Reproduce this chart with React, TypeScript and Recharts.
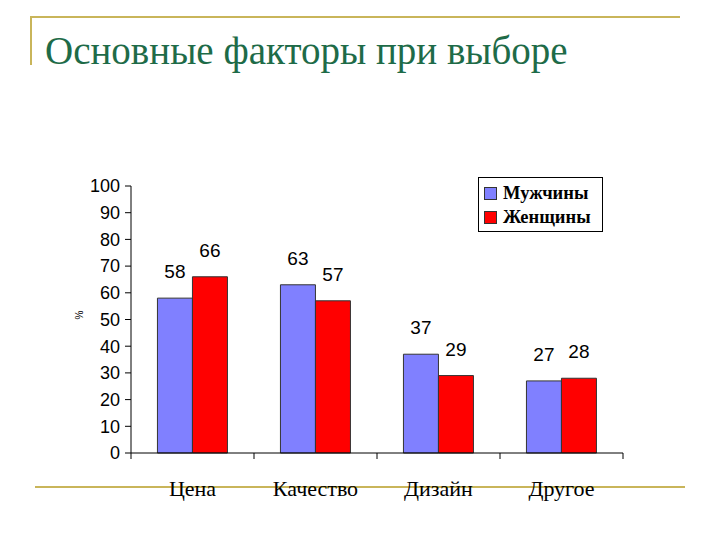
import React from 'react';
import { BarChart, Bar, XAxis, YAxis, LabelList, Legend } from 'recharts';

const categories = ['Цена', 'Качество', 'Дизайн', 'Другое'];
const men = [58, 63, 37, 27];
const women = [66, 57, 29, 28];
const yTicks = [0, 10, 20, 30, 40, 50, 60, 70, 80, 90, 100];

const data = categories.map((name, i) => ({ name, men: men[i], women: women[i] }));

const GOLD = '#C9B55A';
const SANS = '"Liberation Sans", Arial, sans-serif';
const SERIF = '"Liberation Serif", "Times New Roman", serif';

const CategoryTick = (props: any) => {
  const { x, y, payload, index } = props;
  const half = 123 / 2;
  return (
    <g>
      <line x1={x - half} x2={x - half} y1={y - 8} y2={y - 2} stroke="#000" />
      {index === categories.length - 1 && (
        <line x1={x + half} x2={x + half} y1={y - 8} y2={y - 2} stroke="#000" />
      )}
      <text x={x} y={y + 27} textAnchor="middle" dominantBaseline="central"
        fontFamily={SERIF} fontSize={22} fill="#000">
        {payload.value}
      </text>
    </g>
  );
};

const LegendBox = () => (
  <div style={{ width: 125, height: 55, border: '1px solid #000', background: '#fff',
    fontFamily: SERIF, fontWeight: 'bold', fontSize: 18.5, boxSizing: 'border-box', padding: '3px 0 0 5px' }}>
    {[['Мужчины', '#8080FF'], ['Женщины', '#FF0000']].map(([label, color]) => (
      <div key={label} style={{ display: 'flex', alignItems: 'center', height: 24 }}>
        <span style={{ width: 11, height: 11, background: color, border: '1px solid #333', marginRight: 6 }} />
        {label}
      </div>
    ))}
  </div>
);

export default function App() {
  return (
    <div style={{ position: 'absolute', left: 0, top: 0, width: 720, height: 540, background: '#fff', overflow: 'hidden' }}>
      <div style={{ position: 'absolute', left: 30, top: 16, width: 650, height: 2, background: GOLD }} />
      <div style={{ position: 'absolute', left: 30, top: 16, width: 2, height: 49, background: GOLD }} />
      <div style={{ position: 'absolute', left: 35, top: 486, width: 650, height: 2, background: GOLD }} />
      <div style={{ position: 'absolute', left: 45, top: 29, fontFamily: SERIF, fontSize: 39,
        color: '#1E6B48', whiteSpace: 'nowrap', lineHeight: '44px' }}>
        Основные факторы при выборе
      </div>
      <div style={{ position: 'absolute', left: 0, top: 0 }}>
        <BarChart width={720} height={540} data={data}
          margin={{ top: 186, right: 97, bottom: 57, left: 71 }}
          barCategoryGap="21.5%" barGap={0}>
          <XAxis dataKey="name" height={30} tickLine={false} axisLine={{ stroke: '#000' }}
            tick={<CategoryTick />} interval={0} />
          <YAxis width={60} domain={[0, 100]} ticks={yTicks} tickSize={6} tickMargin={5}
            axisLine={{ stroke: '#000' }} tickLine={{ stroke: '#000' }}
            tick={{ fontFamily: SANS, fontSize: 18, fill: '#000' }}
            label={{ value: '%', angle: -90, position: 'insideLeft', offset: 8,
              style: { fontFamily: SANS, fontSize: 10, fill: '#000' } }} />
          <YAxis yAxisId="r" orientation="right" width={0} domain={[0, 100]} tick={false}
            tickLine={false} axisLine={{ stroke: '#000' }} />
          <Legend content={<LegendBox />} layout="vertical" verticalAlign="middle" align="center"
            wrapperStyle={{ left: 478, top: 177, width: 125, height: 55 }} />
          <Bar dataKey="men" name="Мужчины" fill="#8080FF" stroke="#333" strokeWidth={1} isAnimationActive={false}>
            <LabelList dataKey="men" position="top" offset={20}
              style={{ fontFamily: SANS, fontSize: 19, fill: '#000' }} />
          </Bar>
          <Bar dataKey="women" name="Женщины" fill="#FF0000" stroke="#333" strokeWidth={1} isAnimationActive={false}>
            <LabelList dataKey="women" position="top" offset={20}
              style={{ fontFamily: SANS, fontSize: 19, fill: '#000' }} />
          </Bar>
        </BarChart>
      </div>
    </div>
  );
}
